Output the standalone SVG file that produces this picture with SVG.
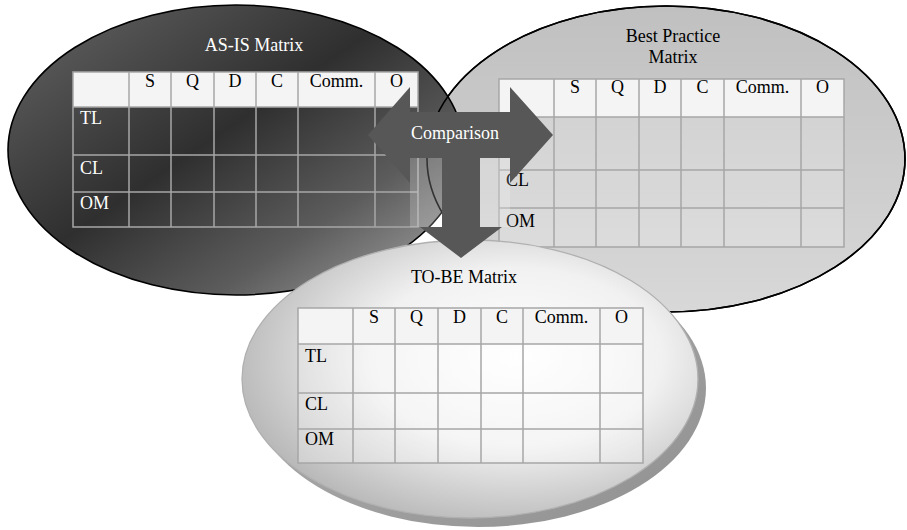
<svg xmlns="http://www.w3.org/2000/svg" width="907" height="530" viewBox="0 0 907 530">
  <style>
    text { font-family: "Liberation Serif", "Times New Roman", serif; font-size: 18px; }
    .hdr { fill: #f4f4f4; }
    .grid { fill: none; stroke: #a6a6a6; stroke-width: 1.5; }
    .lblDark { fill: #ffffff; }
    .lblLight { fill: #000000; }
    .mid { text-anchor: middle; }
    .outline { fill: none; stroke: #000000; stroke-width: 1.6; }
  </style>
  <defs>
    <linearGradient id="gAsIs" x1="0.1" y1="0.15" x2="0.95" y2="0.95">
      <stop offset="0" stop-color="#575757"/>
      <stop offset="0.4" stop-color="#2f2f2f"/>
      <stop offset="0.72" stop-color="#5c5c5c"/>
      <stop offset="1" stop-color="#9e9e9e"/>
    </linearGradient>
    <linearGradient id="gBest" x1="0" y1="0" x2="0" y2="1">
      <stop offset="0" stop-color="#c0c0c0"/>
      <stop offset="1" stop-color="#d8d8d8"/>
    </linearGradient>
    <radialGradient id="gToBe" cx="0.6" cy="0.42" r="0.64">
      <stop offset="0" stop-color="#ffffff"/>
      <stop offset="0.5" stop-color="#f1f1f1"/>
      <stop offset="1" stop-color="#b6b6b6"/>
    </radialGradient>
    <linearGradient id="gShadow" x1="0" y1="0" x2="1" y2="1">
      <stop offset="0" stop-color="#b4b4b4"/>
      <stop offset="1" stop-color="#909090"/>
    </linearGradient>
  </defs>

  <!-- Best Practice matrix -->
  <g id="best-practice">
    <ellipse cx="666" cy="159" rx="239" ry="153" fill="url(#gBest)" stroke="#000" stroke-width="1.6"/>
    <text class="lblLight mid" x="673" y="42">Best Practice</text>
    <text class="lblLight mid" x="673" y="63">Matrix</text>
    <rect class="hdr" x="499" y="79" width="345" height="38"/>
    <rect x="499" y="117" width="345" height="130" fill="#ffffff" fill-opacity="0.2"/>
    <path class="grid" d="M499 79H844V247H499Z M499 117H844 M499 170H844 M499 208H844 M554 79V247 M596 79V247 M639 79V247 M681 79V247 M724 79V247 M801 79V247"/>
    <g class="lblLight mid">
      <text x="575" y="93">S</text>
      <text x="617.5" y="93">Q</text>
      <text x="660" y="93">D</text>
      <text x="702.5" y="93">C</text>
      <text x="762.5" y="93">Comm.</text>
      <text x="822.5" y="93">O</text>
    </g>
    <text class="lblLight" x="506" y="186">CL</text>
    <text class="lblLight" x="506" y="227">OM</text>
  </g>

  <!-- AS-IS matrix -->
  <g id="as-is">
    <ellipse cx="236" cy="150" rx="228" ry="145" fill="url(#gAsIs)" stroke="#000" stroke-width="1.6"/>
    <text class="lblDark mid" x="254" y="51">AS-IS Matrix</text>
    <rect class="hdr" x="73" y="72" width="345" height="35"/>
    <path class="grid" stroke="#9a9a9a" d="M73 72H418V227H73Z M73 107H418 M73 155H418 M73 192H418 M129 72V227 M171 72V227 M214 72V227 M256 72V227 M298 72V227 M375 72V227"/>
    <g class="lblLight mid">
      <text x="150" y="87">S</text>
      <text x="192.5" y="87">Q</text>
      <text x="235" y="87">D</text>
      <text x="277" y="87">C</text>
      <text x="336.5" y="87">Comm.</text>
      <text x="396.5" y="87">O</text>
    </g>
    <text class="lblDark" x="80" y="124">TL</text>
    <text class="lblDark" x="80" y="174">CL</text>
    <text class="lblDark" x="80" y="209">OM</text>
  </g>

  <!-- Best Practice rim stays visible across the overlap -->
  <ellipse class="outline" cx="666" cy="159" rx="239" ry="153"/>

  <!-- TO-BE matrix -->
  <g id="to-be">
    <ellipse cx="478" cy="388" rx="228" ry="139" fill="url(#gShadow)"/>
    <ellipse cx="470" cy="379" rx="228" ry="139" fill="url(#gToBe)" stroke="#b0b0b0" stroke-width="1.3"/>
    <text class="lblLight mid" x="464" y="283">TO-BE Matrix</text>
    <rect class="hdr" x="298" y="308" width="345" height="36"/>
    <rect x="298" y="344" width="345" height="119" fill="#ffffff" fill-opacity="0.3"/>
    <path class="grid" d="M298 308H643V463H298Z M298 344H643 M298 393H643 M298 429H643 M353 308V463 M395 308V463 M438 308V463 M481 308V463 M523 308V463 M600 308V463"/>
    <g class="lblLight mid">
      <text x="374" y="323">S</text>
      <text x="416.5" y="323">Q</text>
      <text x="459.5" y="323">D</text>
      <text x="502" y="323">C</text>
      <text x="561.5" y="323">Comm.</text>
      <text x="621.5" y="323">O</text>
    </g>
    <text class="lblLight" x="305" y="362">TL</text>
    <text class="lblLight" x="305" y="410">CL</text>
    <text class="lblLight" x="305" y="445">OM</text>
  </g>

  <!-- Connectors: three-way comparison arrow -->
  <g id="connectors">
    <rect x="410" y="158" width="100" height="69" fill="#ffffff" fill-opacity="0.2"/>
    <polygon fill="#575757" points="368,135 410,87 410,112 510,112 510,87 553,135 510,183 510,158 480,158 480,227 502,227 461,258 420,227 442,227 442,158 410,158 410,183"/>
    <text class="lblDark mid" x="455" y="139">Comparison</text>
  </g>
</svg>
